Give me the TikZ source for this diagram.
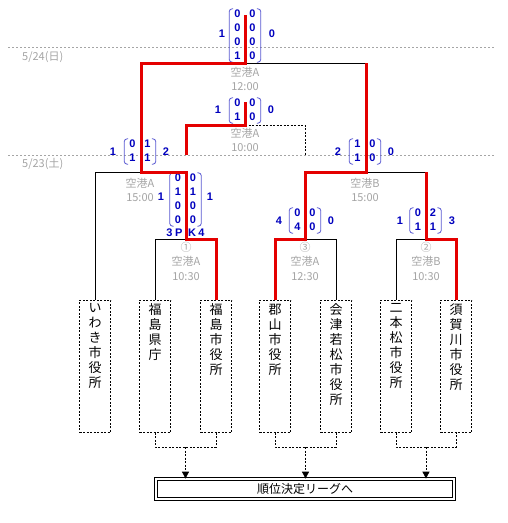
\documentclass[tikz,border=0pt]{standalone}
\usepackage{fontspec}
\setmainfont{Noto Sans CJK JP}
\newfontfamily\suuji{Liberation Sans}
\usetikzlibrary{arrows.meta}
\definecolor{aka}{RGB}{228,0,0}
\definecolor{ao}{RGB}{0,0,190}
\definecolor{kakkoiro}{RGB}{90,90,210}
\definecolor{usuzumi}{RGB}{165,165,165}

\begin{document}
\begin{tikzpicture}[x=1pt, y=-1pt, >={Triangle[width=7pt,length=7pt]},
  kachi/.style={draw=aka, line width=3pt},
  make/.style={draw=black, line width=0.8pt},
  tensen/.style={draw=black, line width=0.8pt, dash pattern=on 2pt off 1.5pt},
  kugiri/.style={draw=usuzumi, line width=0.8pt, dash pattern=on 2pt off 2pt},
  kaijou/.style={text=usuzumi, font=\fontsize{11}{14.5}\selectfont, align=center, inner sep=0pt},
  team/.style={tensen, minimum width=31pt, minimum height=132pt, anchor=north, inner sep=0pt},
  teamname/.style={anchor=north, align=center, font=\fontsize{13}{15}\selectfont, inner sep=0pt},
  tokuten/.style={text=ao, font=\suuji\bfseries\fontsize{11}{14}\selectfont, inner sep=0pt},
  kakko/.style={draw=kakkoiro, line width=0.8pt, rounded corners=3pt},
]
  \useasboundingbox[fill=white] (0,0) rectangle (507,523);

  % 括弧を描くマクロ
  \def\kakko#1{%
    \draw[kakko] ([xshift=4pt,yshift=-1pt]#1.north west) -- ([yshift=-1pt]#1.north west)
      -- ([yshift=2pt]#1.south west) -- ([xshift=4pt,yshift=2pt]#1.south west);
    \draw[kakko] ([xshift=-4pt,yshift=-1pt]#1.north east) -- ([yshift=-1pt]#1.north east)
      -- ([yshift=2pt]#1.south east) -- ([xshift=-4pt,yshift=2pt]#1.south east);}

  % 日付の区切り線
  \coordinate (d24) at (8,47);
  \coordinate (d23) at (8,155);
  \draw[kugiri] (d24) -- (495,47);
  \draw[kugiri] (d23) -- (495,155);
  \node[kaijou, anchor=west] (hi24) at (22,57) {5/24(日)};
  \node[kaijou, anchor=west] (hi23) at (22,164) {5/23(土)};

  % 試合の位置
  \coordinate (g1)   at (186,239); % 第1試合 ①
  \coordinate (g3)   at (305,239); % ③
  \coordinate (g2)   at (426,239); % ②
  \coordinate (sfA)  at (141,172); % 準決勝 空港A
  \coordinate (sfB)  at (366,172); % 準決勝 空港B
  \coordinate (ket)  at (245,63);  % 決勝
  \coordinate (ketT) at (245,15);
  \coordinate (san)  at (245,125); % 3位決定戦
  \coordinate (sanT) at (245,102);

  % チーム
  \node[team] (iwaki) at (95,300) {};
  \node[team] (fkken) at (155,300) {};
  \node[team] (fksi)  at (216,300) {};
  \node[team] (kori)  at (275,300) {};
  \node[team] (aizu)  at (336,300) {};
  \node[team] (nihon) at (396,300) {};
  \node[team] (suka)  at (456,300) {};
  \node[teamname] (iwakin) at ([yshift=-3.5pt]iwaki.north) {い\\わ\\き\\市\\役\\所};
  \node[teamname] (fkkenn) at ([yshift=-3.5pt]fkken.north) {福\\島\\県\\庁};
  \node[teamname] (fksin)  at ([yshift=-3.5pt]fksi.north)  {福\\島\\市\\役\\所};
  \node[teamname] (korin)  at ([yshift=-3.5pt]kori.north)  {郡\\山\\市\\役\\所};
  \node[teamname] (aizun)  at ([yshift=-3.5pt]aizu.north)  {会\\津\\若\\松\\市\\役\\所};
  \node[teamname] (nihonn) at ([yshift=-3.5pt]nihon.north) {二\\本\\松\\市\\役\\所};
  \node[teamname] (sukan)  at ([yshift=-3.5pt]suka.north)  {須\\賀\\川\\市\\役\\所};

  % 負けた側の線
  \draw[make] (iwaki.north) |- (sfA);
  \draw[make] (fkken.north) |- (g1);
  \draw[make] (aizu.north) |- (g3);
  \draw[make] (nihon.north) |- (g2);
  \draw[make] (sfB) -- (g2 |- sfB);
  \draw[make] (ket) -- (sfB |- ket);
  \draw[tensen] (san) -| (g3 |- d23);

  % 会場と時刻
  \node[kaijou] (k12) at (245,79)  {空港A\\12:00};
  \node[kaijou] (k10) at (245,140) {空港A\\10:00};
  \node[kaijou] (kA15) at (140,190) {空港A\\15:00};
  \node[kaijou] (kB15) at (365,190) {空港B\\15:00};
  \node[kaijou] (k1) at (186,261) {①\\空港A\\10:30};
  \node[kaijou] (k3) at (305,261) {③\\空港A\\12:30};
  \node[kaijou] (k2) at (426,261) {②\\空港B\\10:30};

  % スコア
  \node[tokuten, inner xsep=5pt] (mK) at (245,36)
    {\begin{tabular}{@{}c@{\hspace{9pt}}c@{}}0&0\\0&0\\0&0\\1&0\end{tabular}};
  \node[tokuten] (mKl) at (222,34) {1};
  \node[tokuten] (mKr) at (272,34) {0};
  \kakko{mK}

  \node[tokuten, inner xsep=5pt] (mS) at (245,111)
    {\begin{tabular}{@{}c@{\hspace{9pt}}c@{}}0&0\\1&0\end{tabular}};
  \node[tokuten] (mSl) at (218,110) {1};
  \node[tokuten] (mSr) at (271,110) {0};
  \kakko{mS}

  \node[tokuten, inner xsep=5pt] (mA) at (140,152)
    {\begin{tabular}{@{}c@{\hspace{9pt}}c@{}}0&1\\1&1\end{tabular}};
  \node[tokuten] (mAl) at (113,152) {1};
  \node[tokuten] (mAr) at (166,152) {2};
  \kakko{mA}

  \node[tokuten, inner xsep=5pt] (mB) at (365,152)
    {\begin{tabular}{@{}c@{\hspace{9pt}}c@{}}1&0\\1&0\end{tabular}};
  \node[tokuten] (mBl) at (338,152) {2};
  \node[tokuten] (mBr) at (391,152) {0};
  \kakko{mB}

  \node[tokuten, inner xsep=5pt] (m1) at (185.5,200)
    {\begin{tabular}{@{}c@{\hspace{9pt}}c@{}}0&0\\1&1\\0&0\\0&0\end{tabular}};
  \node[tokuten] (m1l) at (161,197) {1};
  \node[tokuten] (m1r) at (210,197) {1};
  \node[tokuten] (pk)  at (185.5,233) {3\hspace{2.6pt}P\hspace{5.7pt}K\hspace{2.3pt}4};
  \kakko{m1}

  \node[tokuten, inner xsep=5pt] (m3) at (305,221)
    {\begin{tabular}{@{}c@{\hspace{9pt}}c@{}}0&0\\4&0\end{tabular}};
  \node[tokuten] (m3l) at (279,221) {4};
  \node[tokuten] (m3r) at (331,221) {0};
  \kakko{m3}

  \node[tokuten, inner xsep=5pt] (m2) at (425.5,221)
    {\begin{tabular}{@{}c@{\hspace{9pt}}c@{}}0&2\\1&1\end{tabular}};
  \node[tokuten] (m2l) at (400,221) {1};
  \node[tokuten] (m2r) at (452,221) {3};
  \kakko{m2}

  % 勝ち上がりの線
  \draw[kachi] (fksi.north) |- (g1) |- (sfA) |- (ket) -- (ketT);
  \draw[kachi] (kori.north) |- (g3) |- (sfB) -- (sfB |- ket);
  \draw[kachi] (suka.north) |- (g2) -- (g2 |- sfB);
  \draw[kachi] (g1 |- d23) |- (san) -- (sanT);

  % 順位決定リーグ
  \node[draw, double, line width=0.8pt, double distance=1.6pt,
        minimum width=298pt, minimum height=20pt, inner sep=0pt,
        font=\fontsize{12}{14}\selectfont] (juni) at (305,489) {順位決定リーグへ};
  \coordinate (j1) at (185.5,447);
  \coordinate (j3) at (305.5,447);
  \coordinate (j2) at (426,447);
  \draw[tensen] (fkken.south) |- (j1) -| (fksi.south);
  \draw[tensen] (kori.south) |- (j3) -| (aizu.south);
  \draw[tensen] (nihon.south) |- (j2) -| (suka.south);
  \draw[tensen,->] (j1) -- (j1 |- juni.north);
  \draw[tensen,->] (j3) -- (j3 |- juni.north);
  \draw[tensen,->] (j2) -- (j2 |- juni.north);

\end{tikzpicture}
\end{document}
